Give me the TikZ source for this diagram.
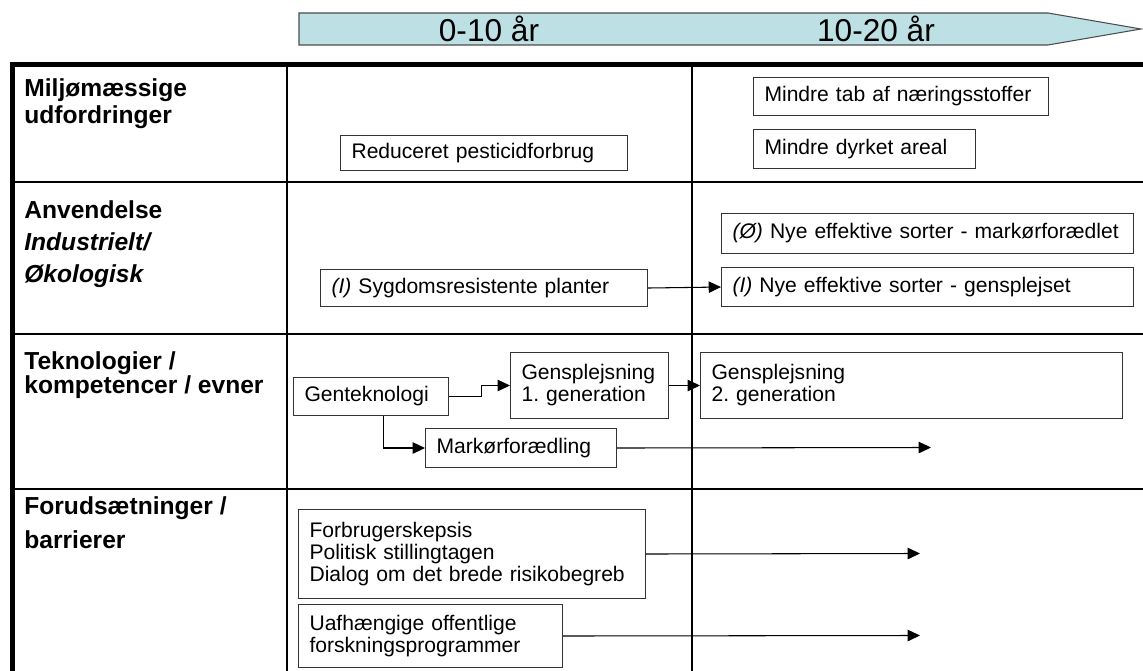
\documentclass[tikz,border=0pt]{standalone}
\usepackage{fontspec}
\setmainfont{Liberation Sans}
\usetikzlibrary{arrows.meta}

\begin{document}
\frenchspacing
\begin{tikzpicture}[x=0.02cm, y=-0.02cm, >={Triangle[length=7pt,width=6.5pt]},
  boks/.style={draw=black!80, line width=0.6pt, anchor=north west, inner xsep=0.22cm, inner ysep=0pt, align=left, font=\fontsize{12}{12.5}\selectfont},
  rubrik/.style={anchor=north west, inner sep=0pt, align=left},
  pil/.style={->, line width=0.6pt},
  gitter/.style={line width=1.2pt},
  ramme/.style={line width=2.8pt}]
\useasboundingbox (0,0) rectangle (1143,671);

% tidslinje
\draw[draw=black!70, line width=0.6pt, fill={rgb,255:red,188;green,224;blue,228}] (299,13) -- (1048,13) -- (1141,29) -- (1048,45) -- (299,45) -- cycle;
\node[font=\fontsize{18}{18}\selectfont] (t1) at (489,29) {0-10 år};
\node[font=\fontsize{18}{18}\selectfont] (t2) at (876,29) {10-20 år};

% tabel
\draw[gitter, line width=1.6pt] (10,182) -- (1160,182);
\draw[gitter] (10,334) -- (1160,334);
\draw[gitter] (10,489) -- (1160,489);
\draw[gitter] (287,64) -- (287,680);
\draw[gitter] (692,64) -- (692,680);
\draw[ramme] (10,64.5) -- (1160,64.5);
\draw[ramme] (12.5,62) -- (12.5,680);

% rubrikker
\node[rubrik, font=\fontsize{14}{15.5}\selectfont\bfseries] (r1) at (24,78) {Miljømæssige\\udfordringer};
\node[rubrik, font=\fontsize{14}{18.4}\selectfont\bfseries] (r2) at (24,200) {Anvendelse\\\textit{Industrielt/}\\\textit{Økologisk}};
\node[rubrik, font=\fontsize{14}{14}\selectfont\bfseries] (r3) at (24,351) {Teknologier /\\kompetencer / evner};
\node[rubrik, font=\fontsize{14}{19.8}\selectfont\bfseries] (r4) at (24,496) {Forudsætninger /\\barrierer};

% miljø
\node[boks, text width=5.30cm, minimum height=0.70cm] (pest) at (340,135) {Reduceret pesticidforbrug};
\node[boks, text width=5.46cm, minimum height=0.76cm] (naer) at (753,77) {Mindre tab af næringsstoffer};
\node[boks, text width=4.00cm, minimum height=0.78cm] (areal) at (753,129) {Mindre dyrket areal};

% anvendelse
\node[boks, text width=6.10cm, minimum height=0.74cm] (sygd) at (320,269) {\textit{(I)} Sygdomsresistente planter};
\node[boks, text width=7.80cm, minimum height=0.80cm] (markf) at (721,213) {\textit{(Ø)} Nye effektive sorter - markørforædlet};
\node[boks, text width=7.80cm, minimum height=0.78cm] (gensp) at (721,267) {\textit{(I)} Nye effektive sorter - gensplejset};
\draw[pil] (sygd.east) -- (gensp.west);

% teknologier
\node[boks, text width=2.66cm, minimum height=0.76cm] (gtek) at (293,377) {Genteknologi};
\node[boks, text width=2.72cm, minimum height=1.32cm] (gen1) at (510,352) {Gensplejsning\\1. generation};
\node[boks, text width=8.00cm, minimum height=1.32cm] (gen2) at (700,352) {Gensplejsning\\2. generation};
\node[boks, text width=3.38cm, minimum height=0.78cm] (mfor) at (425,428) {Markørforædling};
\coordinate (mslut) at (931,447.5);
\draw[pil] (gtek.east) -- ++(32,0) |- (gen1.west);
\draw[pil] ([xshift=0.25cm]gtek.south) |- (mfor.west);
\draw[pil] (gen1) -- (gen2);
\draw[pil] (mfor.east) -- (mslut);

% forudsætninger
\node[boks, text width=6.50cm, minimum height=1.78cm] (skep) at (298,509) {Forbrugerskepsis\\Politisk stillingtagen\\Dialog om det brede risikobegreb};
\node[boks, text width=4.84cm, minimum height=1.26cm] (forsk) at (298,604) {Uafhængige offentlige\\forskningsprogrammer};
\coordinate (sslut) at (920,553.5);
\coordinate (fslut) at (920,635.5);
\draw[pil] (skep.east) -- (sslut);
\draw[pil] (forsk.east) -- (fslut);
\end{tikzpicture}
\end{document}
